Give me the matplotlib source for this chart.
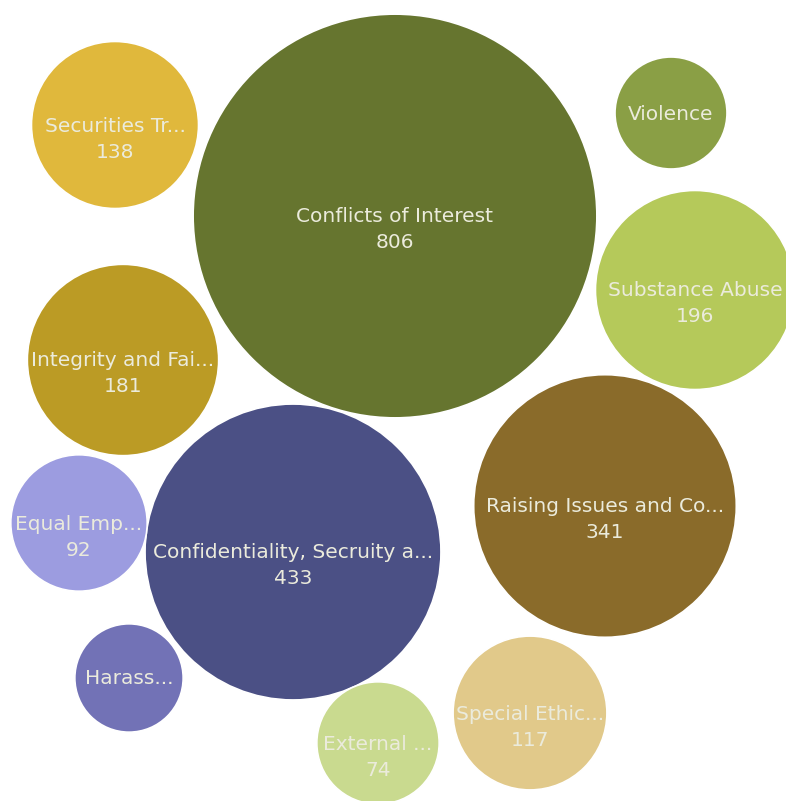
import numpy as np
import matplotlib.pyplot as plt
from matplotlib.patches import Circle

# Categories and counts
labels = ["Conflicts of Interest", "Confidentiality, Secruity a...", "Raising Issues and Co...",
          "Substance Abuse", "Integrity and Fai...", "Securities Tr...", "Special Ethic...",
          "Equal Emp...", "External ...", "Violence", "Harass..."]
values = [806, 433, 341, 196, 181, 138, 117, 92, 74, 62, 58]
show_value = [True, True, True, True, True, True, True, True, True, False, False]
colors = ["#66752f", "#4b5085", "#8a6b2a", "#b5c95a", "#bb9b25", "#e0b83c", "#e1c98a",
          "#9c9ce0", "#c9da8f", "#8a9f45", "#7272b6"]

# packed layout (centres in pixels, y down)
centres = [(395, 216), (293, 552), (605, 506), (695, 290), (123, 360), (115, 125),
           (530, 713), (79, 523), (378, 743), (671, 113), (129, 678)]

W, H = 786, 801
scale = 7.11  # radius = scale * sqrt(value)

fig = plt.figure(figsize=(W / 100, H / 100), dpi=100)
ax = fig.add_axes([0, 0, 1, 1])
ax.set_xlim(0, W)
ax.set_ylim(H, 0)
ax.set_aspect("equal")
ax.axis("off")

txt = dict(ha="center", va="center", color="#ebebdc", fontsize=14.5, family="DejaVu Sans")

for lab, v, show, c, (cx, cy) in zip(labels, values, show_value, colors, centres):
    r = scale * np.sqrt(v)
    ax.add_patch(Circle((cx, cy), r, facecolor=c, edgecolor="white", linewidth=1.2))
    ax.text(cx, cy + 1, lab, **txt)
    if show:
        ax.text(cx, cy + 27, str(v), **txt)

fig.savefig("out.png", dpi=100)
